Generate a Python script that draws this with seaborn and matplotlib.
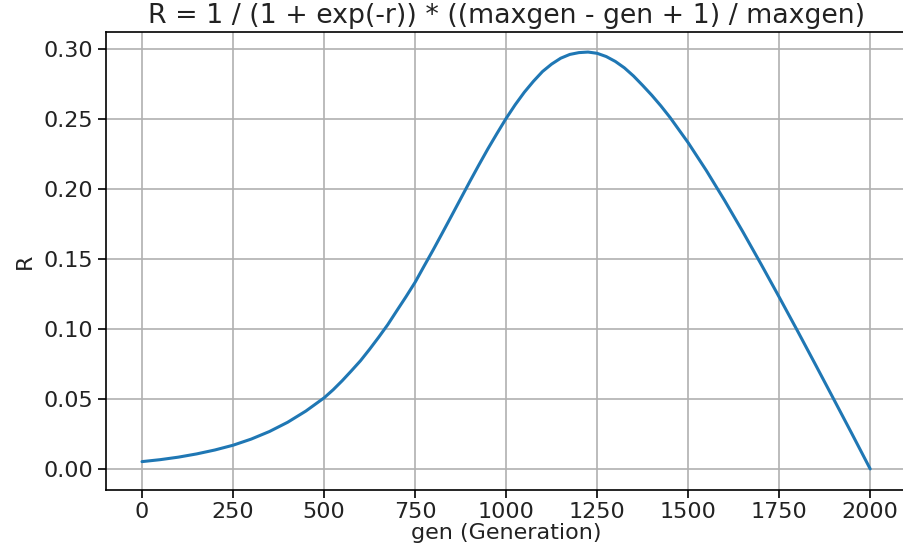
import matplotlib
matplotlib.use("Agg")
import matplotlib.pyplot as plt
import seaborn as sns
import pandas as pd

# Values
gen = [0, 50, 100, 150, 200, 250, 300, 350, 400, 450,
       500, 525, 550, 575, 600, 625, 650, 675, 700, 725,
       750, 775, 800, 825, 850, 875, 900, 925, 950, 975,
       1000, 1025, 1050, 1075, 1100, 1125, 1150, 1175, 1200, 1225,
       1250, 1275, 1300, 1325, 1350, 1375, 1400, 1425, 1450,
       1500, 1550, 1600, 1650, 1700, 1750, 1800, 1850, 1900, 1950, 2000]
R = [0.0055, 0.0069, 0.0087, 0.0110, 0.0138, 0.0172, 0.0216, 0.0270, 0.0336, 0.0416,
     0.0510, 0.0568, 0.0633, 0.0703, 0.0775, 0.0857, 0.0943, 0.1033, 0.1133, 0.1232,
     0.1335, 0.1452, 0.1568, 0.1688, 0.1809, 0.1931, 0.2053, 0.2172, 0.2288, 0.2398,
     0.2505, 0.2603, 0.2692, 0.2770, 0.2840, 0.2893, 0.2935, 0.2962, 0.2975, 0.2979,
     0.2970, 0.2947, 0.2912, 0.2866, 0.2808, 0.2741, 0.2671, 0.2595, 0.2513,
     0.2332, 0.2133, 0.1920, 0.1697, 0.1466, 0.1230, 0.0990, 0.0746, 0.0500, 0.0253, 0.0003]

title = "R = 1 / (1 + exp(-r)) * ((maxgen - gen + 1) / maxgen)"
xlabel = "gen (Generation)"
ylabel = "R"
xticks = [0, 250, 500, 750, 1000, 1250, 1500, 1750, 2000]
yticks = [0.00, 0.05, 0.10, 0.15, 0.20, 0.25, 0.30]

sns.set_theme(style="ticks")
plt.rcParams['font.family'] = ['DejaVu Sans']

df = pd.DataFrame({"gen": gen, "R": R})

fig = plt.figure(figsize=(9.04, 5.5), dpi=100)
ax = fig.add_axes([105.6 / 904, (550 - 489.5) / 550, 801 / 904, (489.5 - 32.3) / 550])
sns.lineplot(data=df, x="gen", y="R", ax=ax, color="#1f77b4", linewidth=2.2)

ax.set_xlim(-100, 2100)
ax.set_ylim(-0.0144, 0.312)
ax.set_xticks(xticks)
ax.set_xticklabels([str(t) for t in xticks])
ax.set_yticks(yticks)
ax.set_yticklabels([f"{t:.2f}" for t in yticks])
ax.grid(True, color="#b0b0b0", linewidth=1.2)
for s in ax.spines.values():
    s.set_color("black")
    s.set_linewidth(1.2)
ax.spines["right"].set_visible(False)
ax.tick_params(axis="both", labelsize=16, length=5.5, width=1.2, colors="black",
               labelcolor="#222222")
ax.set_xlabel(xlabel, fontsize=16, color="#222222", labelpad=1)
ax.set_ylabel(ylabel, fontsize=16, color="#222222", labelpad=6)
ax.set_title(title, fontsize=19.3, color="#222222", pad=7)

fig.savefig("out.png", dpi=100)
